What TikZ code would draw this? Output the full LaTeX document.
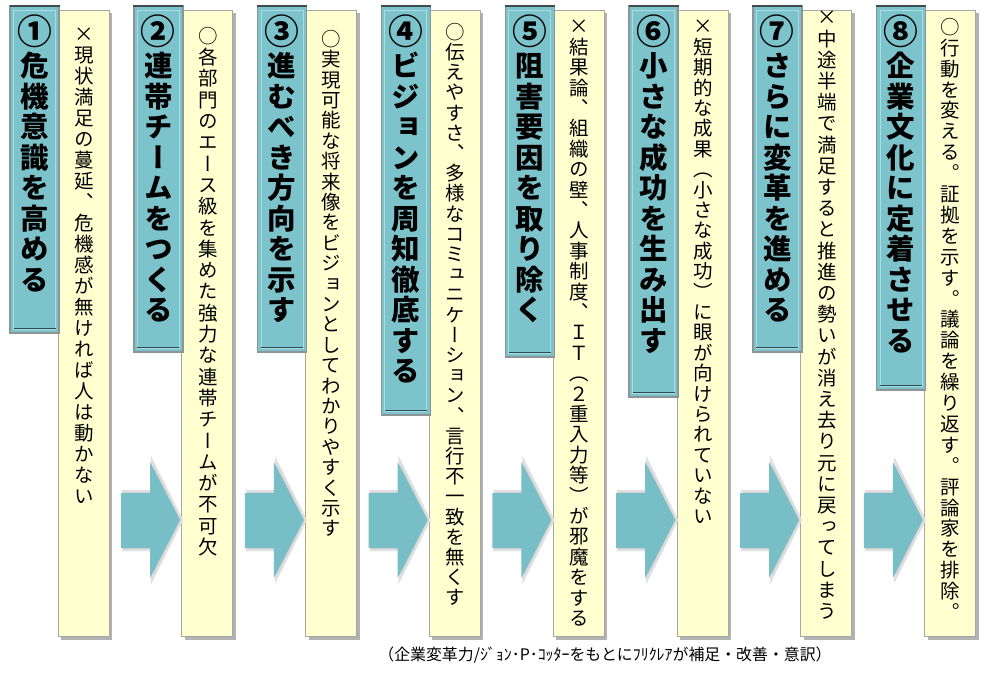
\documentclass[tikz,border=0pt]{standalone}
\usepackage{fontspec}
\newfontfamily\jpv{Noto Sans CJK JP}[RawFeature=+vert]
\newfontfamily\jp{Noto Sans CJK JP}
\definecolor{tealfill}{HTML}{7DC3CC}
\definecolor{arrowfill}{HTML}{78BEC6}
\definecolor{yelfill}{HTML}{FFFFD0}
\definecolor{boxgray}{HTML}{8C9496}
\definecolor{topdark}{HTML}{3E4C50}
\definecolor{innerdark}{HTML}{2B4A50}
\definecolor{innerlight}{HTML}{A8DDE3}
\ExplSyntaxOn
\NewDocumentCommand\vtext{mm}{
  \vbox_top:n { \baselineskip=#1 \lineskiplimit=-\maxdimen \lineskip=0pt
    \exp_args:No \tl_map_inline:nn {#2} { \hbox_to_wd:nn {1.1em} { \hfil ##1 \hfil } } }
}
\ExplSyntaxOff
\tikzset{
  titlebox/.style={fill=tealfill, draw=boxgray, line width=1.4pt},
  yelbox/.style={fill=yelfill, draw=gray!70, line width=0.8pt},
  yelshadow/.style={fill=gray!60},
  titletext/.style={anchor=base, inner sep=0pt, font=\jpv\bfseries\fontsize{28.5}{30}\selectfont},
  numtext/.style={inner sep=0pt, font=\jpv\bfseries\fontsize{28.5}{30}\selectfont},
  bodytext/.style={anchor=north, inner sep=0pt, font=\jpv\fontsize{19.5}{20}\selectfont},
  blockarrow/.style={fill=arrowfill},
  arrowshadow/.style={fill=gray!35, draw=gray!25, line width=2pt},
}
\begin{document}
\begin{tikzpicture}[x=1pt,y=-1pt]
\useasboundingbox (0,0) rectangle (987,675);
\fill[white] (0,0) rectangle (987,675);
% columns: index / title bottom / body top / body pitch / number / title / body
\foreach \k/\tb/\bt/\bp/\num/\ttl/\bdy in {
  1/333/28/21.0/①/{危機意識を高める}/{×現状満足の蔓延、危機感が無ければ人は動かない},
  2/352/27/21.3/②/{連帯チームをつくる}/{○各部門のエース級を集めた強力な連帯チームが不可欠},
  3/352/30/20.4/③/{進むべき方向を示す}/{○実現可能な将来像をビジョンとしてわかりやすく示す},
  4/415/23/20.2/④/{ビジョンを周知徹底する}/{○伝えやすさ、多様なコミュニケーション、言行不一致を無くす},
  5/357/20/20.4/⑤/{阻害要因を取り除く}/{×結果論、組織の壁、人事制度、ＩＴ（２重入力等）が邪魔をする},
  6/397/20/20.4/⑥/{小さな成功を生み出す}/{×短期的な成果（小さな成功）に眼が向けられていない},
  7/352/11/21.2/⑦/{さらに変革を進める}/{×中途半端で満足すると推進の勢いが消え去り元に戻ってしまう},
  8/390/18/20.9/⑧/{企業文化に定着させる}/{○行動を変える。証拠を示す。議論を繰り返す。評論家を排除。}}{
  \pgfmathsetmacro{\L}{10+123.8*(\k-1)}
  % yellow box with shadow
  \fill[yelshadow] (\L+51,13) rectangle (\L+102,640);
  \path[yelbox] (\L+48,10) rectangle (\L+99,636);
  \node[bodytext] (body\k) at (\L+74,\bt) {\vtext{\bp pt}{\bdy}};
  % title box
  \path[titlebox] (\L,6) rectangle (\L+49,\tb);
  \draw[innerlight, line width=0.9pt] (\L+3.5,10) rectangle (\L+45.5,\tb-4);
  \draw[innerdark, line width=1.6pt] (\L+3.5,\tb-4.5) -- (\L+45.5,\tb-4.5);
  \draw[topdark, line width=2.6pt] (\L-0.5,6) -- (\L+49.5,6);
  \node[numtext] (num\k) at (\L+24.5,31) {\scalebox{1.22}{\num}};
  \node[titletext] (title\k) at (\L+24.5,76.5) {\vtext{30.5pt}{\ttl}};
}
% block arrows between columns
\foreach \k in {1,...,7}{
  \pgfmathsetmacro{\X}{121+123.8*(\k-1)}
  \path[arrowshadow] (\X+2,491) -- (\X+31,491) -- (\X+31,460) -- (\X+61,520) -- (\X+31,580) -- (\X+31,550) -- (\X+2,550) -- cycle;
  \path[blockarrow] (\X,493) -- (\X+29,493) -- (\X+29,462) -- (\X+59,520) -- (\X+29,578) -- (\X+29,548) -- (\X,548) -- cycle;
}
% caption
\node[font=\jp\fontsize{15.9}{16}\selectfont, inner sep=0pt] (caption) at (605,655) {（企業変革力/ｼﾞｮﾝ･P･ｺｯﾀｰをもとにﾌﾘｸﾚｱが補足・改善・意訳）};
\end{tikzpicture}
\end{document}
